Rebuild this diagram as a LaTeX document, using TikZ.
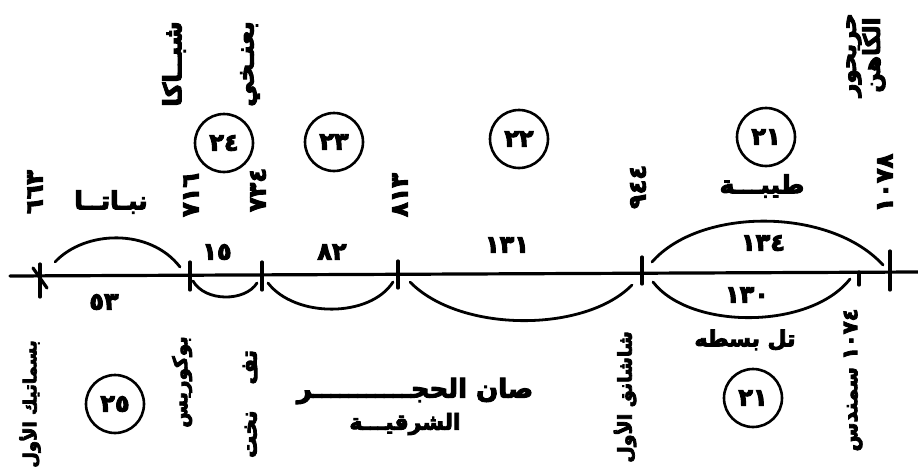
\documentclass[tikz,border=0pt]{standalone}
\usepackage{fontspec}
\newfontfamily\arabicfont[Script=Arabic, FakeBold=4, BoldFeatures={FakeBold=4}]{DejaVu Sans}
\TeXXeTstate=1
\begin{document}
\begin{tikzpicture}[x=1pt,y=-1pt,
  lbl/.style={font=\arabicfont\bfseries\fontsize{22}{26}\selectfont, inner sep=0pt},
  rlbl/.style={lbl, rotate=90},
  num/.style={font=\arabicfont\bfseries\fontsize{24}{28}\selectfont, inner sep=0pt},
  rnum/.style={num, rotate=90},
  dyn/.style={circle, draw, line width=2.6pt, minimum size=58pt, inner sep=0pt, num},
  ln/.style={line width=3.2pt, line cap=round},
  arcln/.style={line width=2.8pt, line cap=round}]
\useasboundingbox (0,0) rectangle (918,471);
% axis
\coordinate (L) at (10,276);
\coordinate (R) at (918,272);
\draw[ln] (L) -- (R);
% ticks
\coordinate (t1a) at (40,264); \coordinate (t1b) at (40,297);
\coordinate (t1c) at (33,268); \coordinate (t1d) at (47,288);
\coordinate (t2a) at (190,262); \coordinate (t2b) at (190,290);
\coordinate (t3a) at (262,262); \coordinate (t3b) at (262,290);
\coordinate (t4a) at (398,261); \coordinate (t4b) at (398,288);
\coordinate (t5a) at (642,257); \coordinate (t5b) at (642,284);
\coordinate (t6a) at (859,272); \coordinate (t6b) at (859,285);
\coordinate (t7a) at (890,251); \coordinate (t7b) at (890,290);
\foreach \t in {t1,t2,t3,t4,t5,t6,t7} \draw[ln] (\t a) -- (\t b);
\draw[ln] (t1c) -- (t1d);
% arcs
\coordinate (a1s) at (55,262);  \coordinate (a1e) at (180,267);
\coordinate (a2s) at (193,281); \coordinate (a2e) at (257,283);
\coordinate (a3s) at (268,283); \coordinate (a3e) at (393,282);
\coordinate (a4s) at (410,282); \coordinate (a4e) at (632,285);
\coordinate (a5s) at (652,262); \coordinate (a5e) at (883,265);
\coordinate (a6s) at (653,282); \coordinate (a6e) at (850,279);
\draw[arcln] (a1s) .. controls (85,230) and (150,228) .. (a1e);
\draw[arcln] (a2s) .. controls (205,302) and (245,302) .. (a2e);
\draw[arcln] (a3s) .. controls (295,318) and (370,318) .. (a3e);
\draw[arcln] (a4s) .. controls (460,333) and (585,333) .. (a4e);
\draw[arcln] (a5s) .. controls (700,207) and (830,207) .. (a5e);
\draw[arcln] (a6s) .. controls (690,330) and (810,330) .. (a6e);
% span numbers
\node[num] (s53) at (104,302) {٥٣};
\node[num] (s15) at (217,252) {١٥};
\node[num] (s82) at (332,252) {٨٢};
\node[num] (s131) at (507,245) {١٣١};
\node[num] (s134) at (763,243) {١٣٤};
\node[num] (s130) at (747,295) {١٣٠};
% dates above the axis
\node[rnum] (d663) at (35,192) {٦٦٣};
\node[rnum] (d716) at (191,195) {٧١٦};
\node[rnum] (d734) at (258,190) {٧٣٤};
\node[rnum] (d813) at (400,195) {٨١٣};
\node[rnum] (d944) at (638,187) {٩٤٤};
\node[rnum] (d1078) at (885,183) {١٠٧٨};
% names above
\node[lbl, font=\arabicfont\bfseries\fontsize{25}{28}\selectfont] (napata) at (111,202) {\beginR نبـاتــا\endR};
\node[lbl, font=\arabicfont\bfseries\fontsize{25}{28}\selectfont] (thebes) at (762,186) {\beginR طيبـــة\endR};
\node[rlbl, font=\arabicfont\bfseries\fontsize{25}{28}\selectfont] (shabaka) at (174,64) {\beginR شبــاكا\endR};
\node[rlbl, font=\arabicfont\bfseries\fontsize{25}{28}\selectfont] (piankhi) at (250,64) {\beginR بعنـخي\endR};
\node[rlbl, align=center, font=\arabicfont\bfseries\fontsize{23}{24}\selectfont] (herihor) at (866,55) {\beginR حريحور\endR\\\beginR الكاهن\endR};
% dynasties
\node[dyn] (c24) at (224,143) {٢٤};
\node[dyn] (c23) at (334,142) {٢٣};
\node[dyn] (c22) at (519,139) {٢٢};
\node[dyn] (c21) at (766,137) {٢١};
\node[dyn] (c25) at (115,404) {٢٥};
\node[dyn] (c21b) at (753,398) {٢١};
% names below
\node[rlbl, font=\arabicfont\bfseries\fontsize{18}{22}\selectfont] (psamtik) at (30,404) {\beginR بسماتيك الأول\endR};
\node[rlbl, font=\arabicfont\bfseries\fontsize{20}{22}\selectfont] (bocchoris) at (182,382) {\beginR بوكوريس\endR};
\node[rlbl] (tefnakht) at (250,404) {\beginR تف\hspace{26pt}نخت\endR};
\node[lbl, font=\arabicfont\bfseries\fontsize{26}{28}\selectfont] (tanis) at (415,391) {\beginR صان الحجـــــــــــر\endR};
\node[lbl] (east) at (405,424) {\beginR الشرقيـــة\endR};
\node[rlbl, font=\arabicfont\bfseries\fontsize{19}{22}\selectfont] (shoshenq) at (625,397) {\beginR شاشانق الأول\endR};
\node[lbl] (bubastis) at (745,340) {\beginR تل بسطه\endR};
\node[rlbl, font=\arabicfont\bfseries\fontsize{21}{22}\selectfont] (smendes) at (853,380) {\beginR\beginL ١٠٧٤\endL\ سمندس\endR};
\end{tikzpicture}
\end{document}
